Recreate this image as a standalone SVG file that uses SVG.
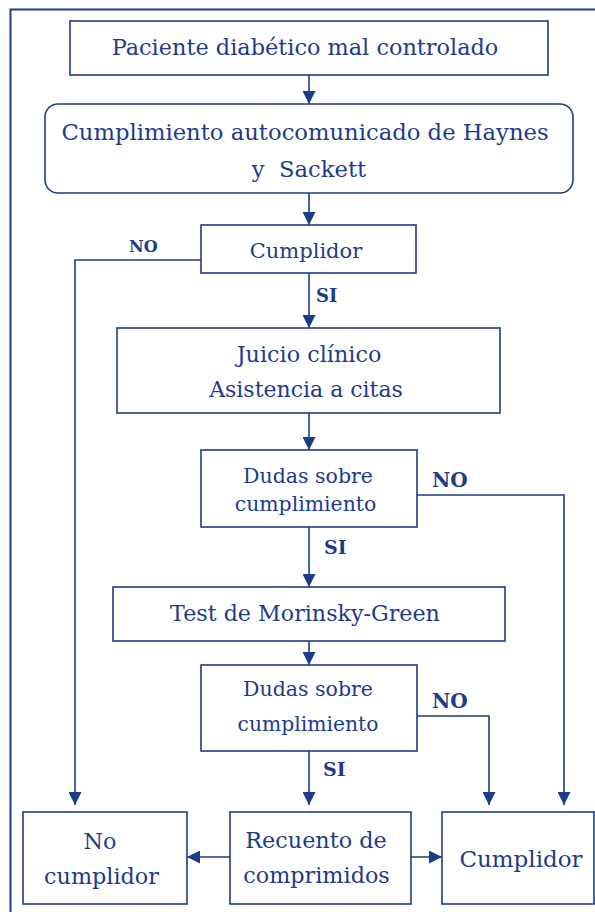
<svg xmlns="http://www.w3.org/2000/svg" width="595" height="912" viewBox="0 0 595 912">
<style>
.box{fill:#fff;stroke:#1d3b8b;stroke-width:1.6}
.t{font-family:"DejaVu Serif","Liberation Serif",serif;fill:#1d3b8b;text-anchor:middle}
.lbl{font-family:"DejaVu Serif","Liberation Serif",serif;fill:#1d3b8b;font-weight:bold}
.c{fill:none;stroke:#1d3b8b;stroke-width:1.6}
</style>
<defs>
<marker id="ah" markerUnits="userSpaceOnUse" markerWidth="13" markerHeight="13" viewBox="0 0 13 13" refX="13" refY="6.5" orient="auto">
<path d="M0,0 L13,6.5 L0,13 z" fill="#1d3b8b"/>
</marker>
</defs>
<rect width="595" height="912" fill="#fff"/>
<path d="M10.5 912 V9.5 H595" fill="none" stroke="#1d3b8b" stroke-width="2"/>
<g id="connectors">
<path class="c" d="M309 75 V104" marker-end="url(#ah)"/>
<path class="c" d="M309 193 V225" marker-end="url(#ah)"/>
<path class="c" d="M201 260 H75 V805" marker-end="url(#ah)"/>
<path class="c" d="M309 273 V328" marker-end="url(#ah)"/>
<path class="c" d="M309 413 V450" marker-end="url(#ah)"/>
<path class="c" d="M417 495 H564 V805" marker-end="url(#ah)"/>
<path class="c" d="M309 527 V587" marker-end="url(#ah)"/>
<path class="c" d="M309 641 V665" marker-end="url(#ah)"/>
<path class="c" d="M417 716 H489 V805" marker-end="url(#ah)"/>
<path class="c" d="M309 751 V805" marker-end="url(#ah)"/>
<path class="c" d="M230 857 H187" marker-end="url(#ah)"/>
<path class="c" d="M408 857 H442" marker-end="url(#ah)"/>
<text class="lbl" x="129" y="252" font-size="16">NO</text>
<text class="lbl" x="316" y="302" font-size="18">SI</text>
<text class="lbl" x="432" y="487" font-size="20">NO</text>
<text class="lbl" x="324" y="554" font-size="19">SI</text>
<text class="lbl" x="432" y="708" font-size="20">NO</text>
<text class="lbl" x="323" y="776" font-size="19">SI</text>
</g>
<g id="n1">
<rect class="box" x="70" y="21" width="478" height="54"/>
<text class="t" x="305" y="55" font-size="22.4">Paciente diabético mal controlado</text>
</g>
<g id="n2">
<rect class="box" x="45" y="104" width="528" height="89" rx="13"/>
<text class="t" x="305" y="140" font-size="22.7">Cumplimiento autocomunicado de Haynes</text>
<text class="t" x="309" y="177" font-size="22.7" xml:space="preserve">y  Sackett</text>
</g>
<g id="n3">
<rect class="box" x="201" y="225" width="215" height="48"/>
<text class="t" x="306" y="258" font-size="21">Cumplidor</text>
</g>
<g id="n4">
<rect class="box" x="117" y="328" width="383" height="85"/>
<text class="t" x="309" y="361.5" font-size="22.3">Juicio clínico</text>
<text class="t" x="306" y="396.5" font-size="22">Asistencia a citas</text>
</g>
<g id="n5">
<rect class="box" x="201" y="450" width="216" height="77"/>
<text class="t" x="308" y="482.5" font-size="20.5">Dudas sobre</text>
<text class="t" x="305.5" y="511" font-size="20.4">cumplimiento</text>
</g>
<g id="n6">
<rect class="box" x="113" y="587" width="392" height="54"/>
<text class="t" x="305" y="620.5" font-size="22.2">Test de Morinsky-Green</text>
</g>
<g id="n7">
<rect class="box" x="201" y="665" width="216" height="86"/>
<text class="t" x="308" y="696" font-size="20.5">Dudas sobre</text>
<text class="t" x="308" y="730.5" font-size="20.3">cumplimiento</text>
</g>
<g id="n8">
<rect class="box" x="23" y="812" width="164" height="92"/>
<text class="t" x="100" y="849" font-size="22.3">No</text>
<text class="t" x="101.5" y="884" font-size="22.3">cumplidor</text>
</g>
<g id="n9">
<rect class="box" x="230" y="812" width="181" height="92"/>
<text class="t" x="316" y="848" font-size="22.3">Recuento de</text>
<text class="t" x="316.5" y="882.5" font-size="22.3">comprimidos</text>
</g>
<g id="n10">
<rect class="box" x="442" y="812" width="152" height="92"/>
<text class="t" x="521" y="866.5" font-size="23">Cumplidor</text>
</g>
</svg>
